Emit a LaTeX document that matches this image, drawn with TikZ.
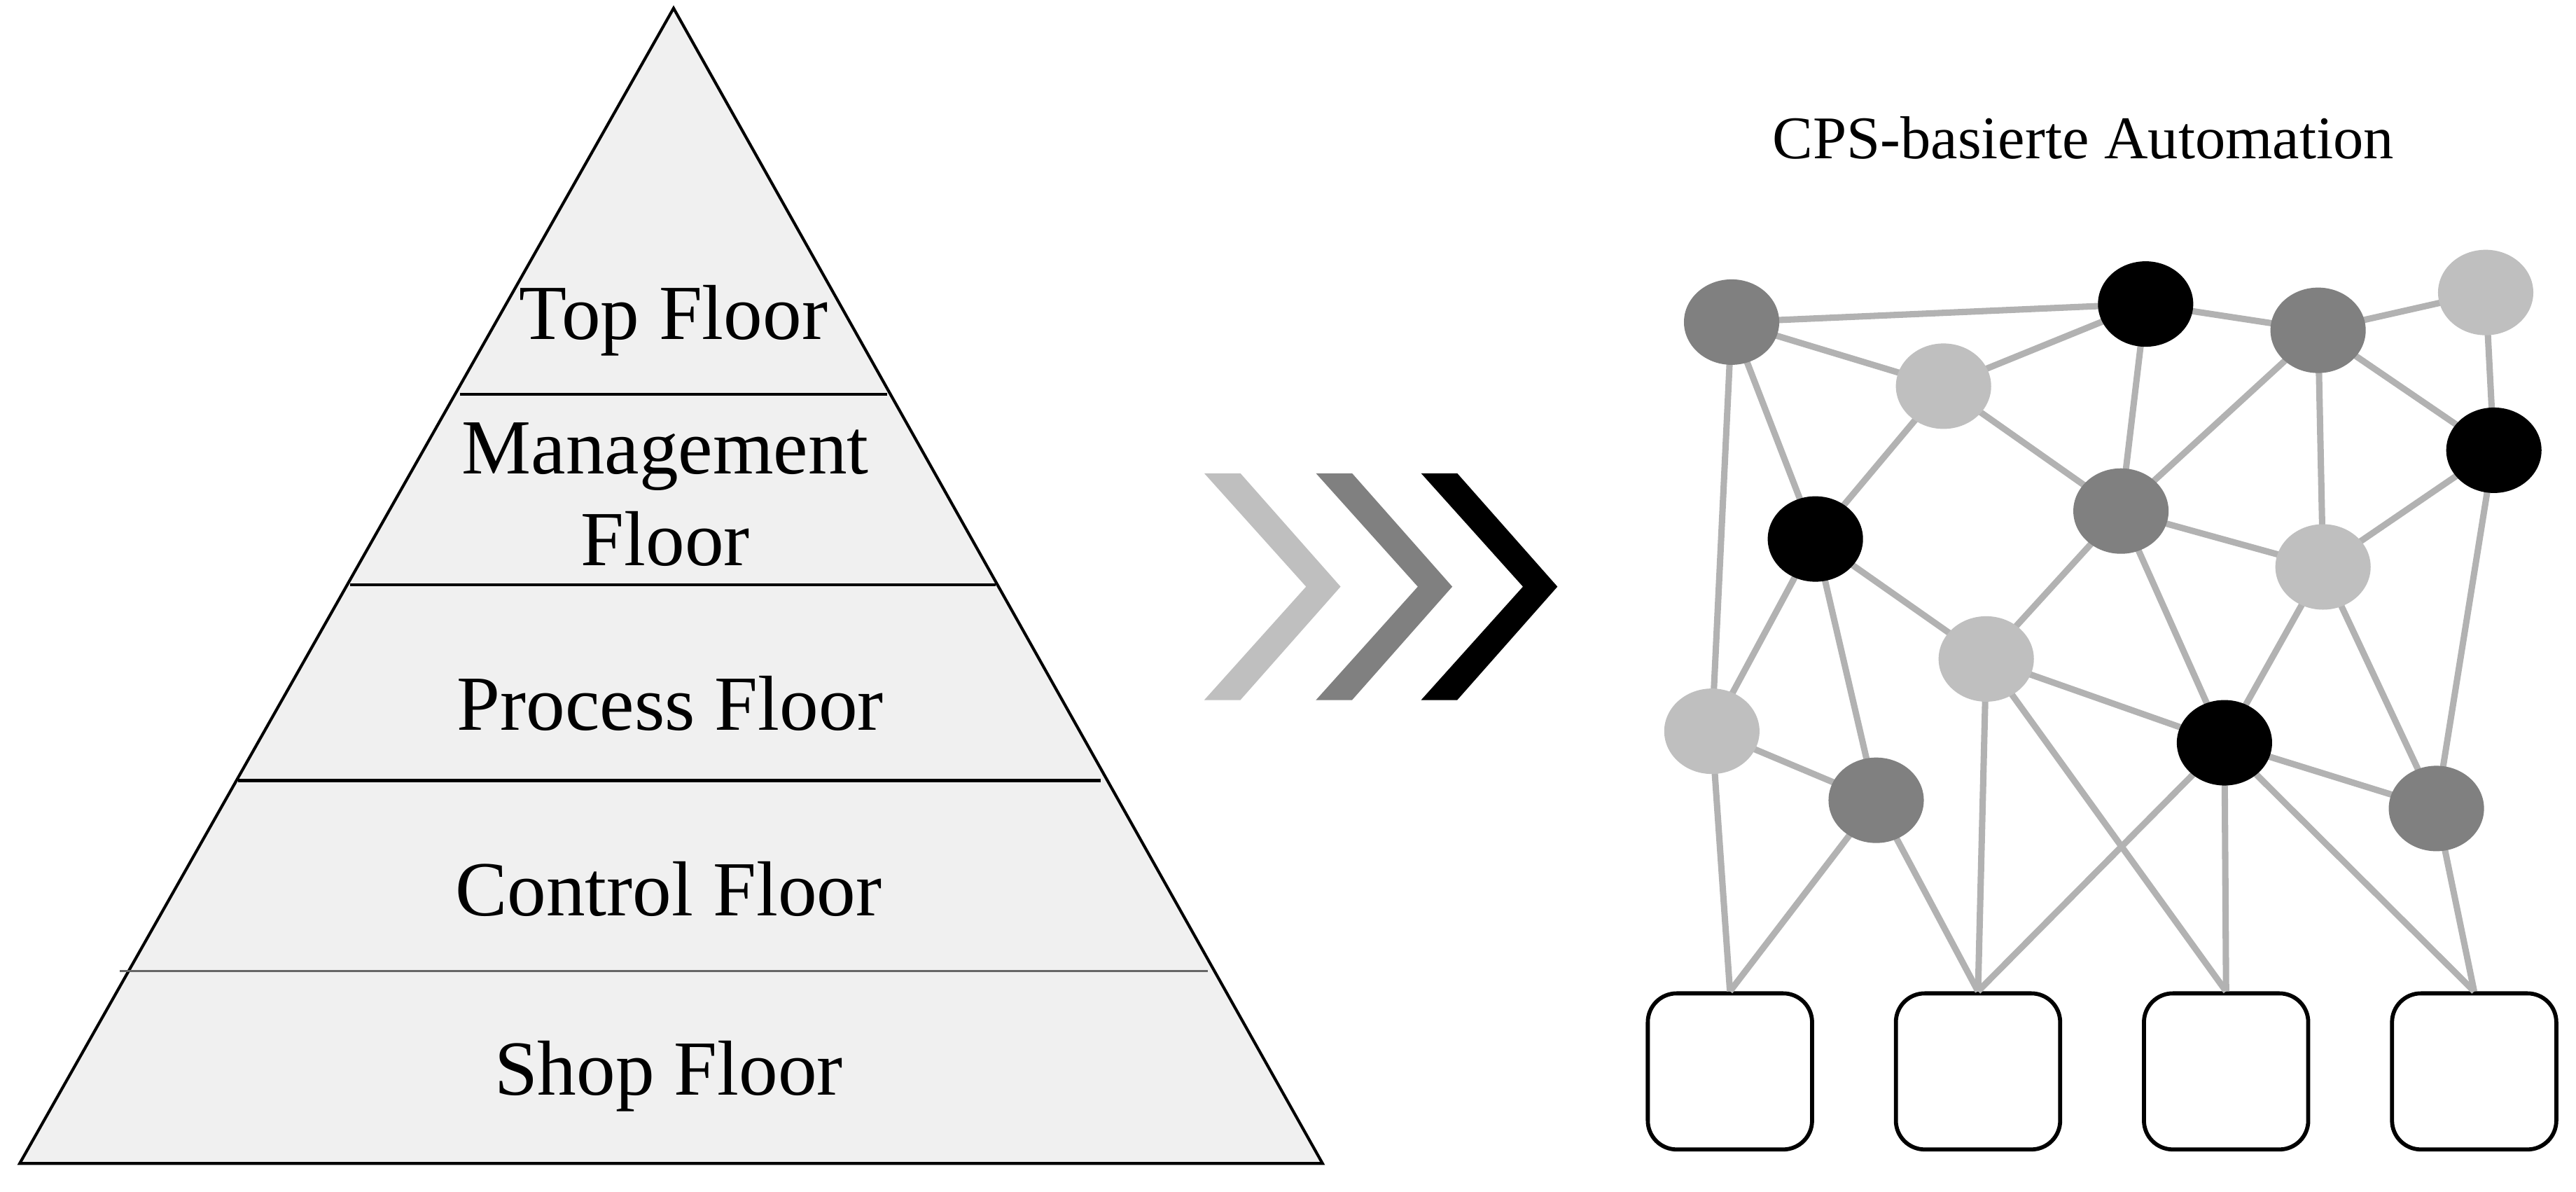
\documentclass[tikz,border=0pt]{standalone}
\usepackage{fontspec}
\setmainfont{Liberation Serif}
\usetikzlibrary{shapes.geometric}
\begin{document}
\begin{tikzpicture}[x=0.02cm,y=-0.02cm,
 lbl/.style={font=\fontsize{27}{29}\selectfont},
 nd/.style={ellipse,minimum width=58*0.02cm,minimum height=52*0.02cm,inner sep=0pt,draw=none},
 dk/.style={nd,fill=black!50},
 bk/.style={nd,fill=black},
 lt/.style={nd,fill=black!25},
 bx/.style={draw,line width=1.4pt,rounded corners=10pt,minimum width=100*0.02cm,minimum height=95*0.02cm},
 ed/.style={draw=black!30,line width=2.2pt}]
\useasboundingbox (0,0) rectangle (1568,725);
% pyramid
\filldraw[fill=black!6,line width=1pt] (410,5) -- (805,708) -- (12,708) -- cycle;
\draw[line width=1pt] (280,240) -- (540,240) (213,356) -- (606,356) (145,475) -- (670,475);
\draw[line width=0.8pt,black!60] (73,591) -- (735,591);
\node[lbl] (t1) at (410,195) {Top Floor};
\node[lbl] (t2a) at (405,278) {Management};
\node[lbl] (t2b) at (405,328) {Floor};
\node[lbl] (t3) at (408,428) {Process Floor};
\node[lbl] (t4) at (407,541) {Control Floor};
\node[lbl] (t5) at (407,655) {Shop Floor};
% chevrons
\foreach \dx/\c in {0/black!25,68/black!50,132/black}
  \fill[\c] ({733+\dx},288) -- ({755+\dx},288) -- ({816+\dx},357) -- ({755+\dx},426) -- ({733+\dx},426) -- ({795+\dx},357) -- cycle;
\node[font=\fontsize{21}{23}\selectfont] (title) at (1268,84) {CPS-basierte Automation};
% boxes
\node[bx] (b1) at (1053,652) {};
\node[bx] (b2) at (1204,652) {};
\node[bx] (b3) at (1355,652) {};
\node[bx] (b4) at (1506,652) {};
% nodes positions
\coordinate (n1) at (1054,196); \coordinate (n2) at (1306,185);
\coordinate (n3) at (1411,201); \coordinate (n4) at (1513,178);
\coordinate (n5) at (1183,235); \coordinate (n6) at (1518,274);
\coordinate (n7) at (1105,328); \coordinate (n8) at (1291,311);
\coordinate (n9) at (1414,345); \coordinate (n10) at (1209,401);
\coordinate (n11) at (1042,445); \coordinate (n12) at (1354,452);
\coordinate (n13) at (1142,487); \coordinate (n14) at (1483,492);
\foreach \a/\b in {n1/n2,n2/n3,n3/n4,n1/n5,n5/n2,n1/n7,n1/n11,n5/n7,n5/n8,n2/n8,n3/n8,n3/n9,n4/n6,n3/n6,n6/n9,n8/n9,n8/n10,n7/n10,n7/n11,n7/n13,n11/n13,n10/n12,n12/n14,n9/n12,n8/n12,n9/n14,n6/n14}
  \draw[ed] (\a) -- (\b);
\foreach \a/\b in {n11/b1,n13/b1,n10/b2,n10/b3,n13/b2,n12/b2,n12/b3,n12/b4,n14/b4}
  \draw[ed] (\a) -- (\b.north);
\node[dk] at (n1) {}; \node[bk] at (n2) {}; \node[dk] at (n3) {};
\node[lt] at (n4) {}; \node[lt] at (n5) {}; \node[bk] at (n6) {};
\node[bk] at (n7) {}; \node[dk] at (n8) {}; \node[lt] at (n9) {};
\node[lt] at (n10) {}; \node[lt] at (n11) {}; \node[bk] at (n12) {};
\node[dk] at (n13) {}; \node[dk] at (n14) {};
\end{tikzpicture}
\end{document}
